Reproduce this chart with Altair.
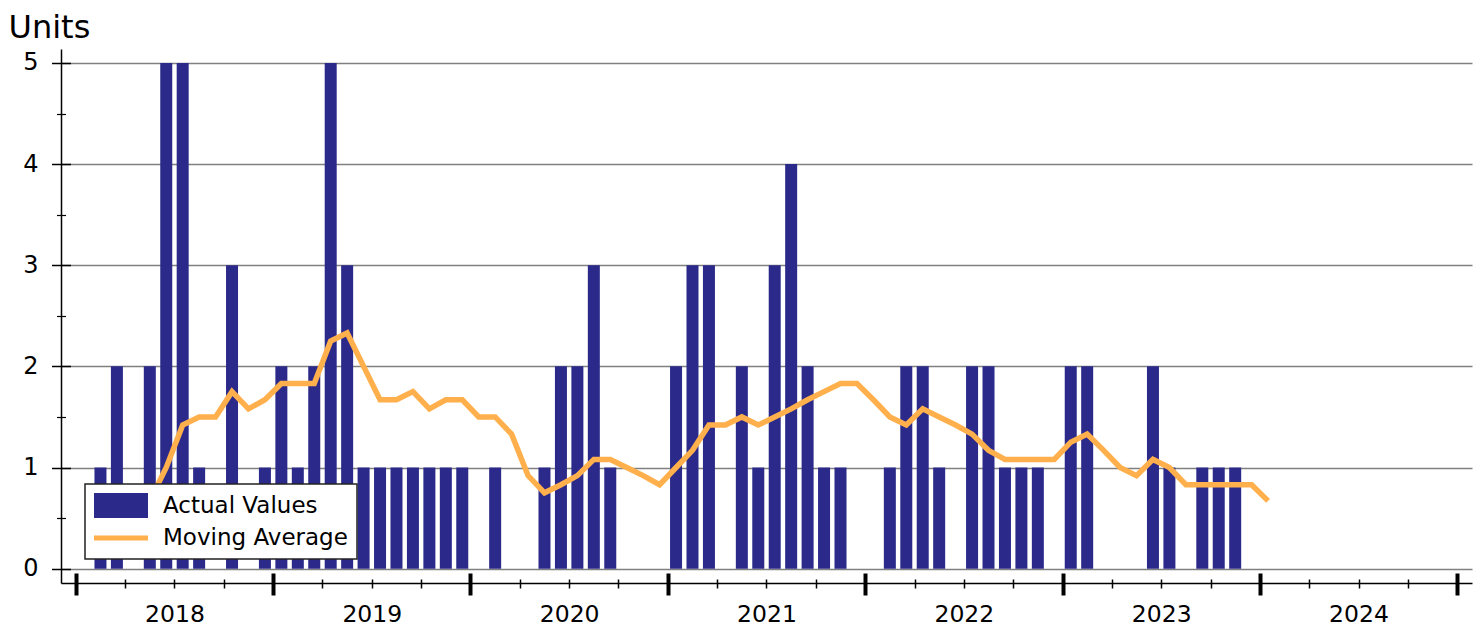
import altair as alt
import pandas as pd

FONT = "DejaVu Sans"
BAR_COLOR = "#2B2A8A"
LINE_COLOR = "#FFB04C"

# ---- data ----
months = pd.date_range("2018-01-01", "2024-01-01", freq="MS").strftime("%Y-%m-%d").tolist()

actual_values = [
    0, 1, 2, 0, 2, 5, 5, 1, 0, 3, 0, 1,   # 2018
    2, 1, 2, 5, 3, 1, 1, 1, 1, 1, 1, 1,   # 2019
    0, 1, 0, 0, 1, 2, 2, 3, 1, 0, 0, 0,   # 2020
    2, 3, 3, 0, 2, 1, 3, 4, 2, 1, 1, 0,   # 2021
    0, 1, 2, 2, 1, 0, 2, 2, 1, 1, 1, 0,   # 2022
    2, 2, 0, 0, 0, 2, 1, 0, 1, 1, 1, 0,   # 2023
    0,                                    # 2024
]

moving_average = [
    None, None, None, None, 0.67, 1.0, 1.42, 1.5, 1.5, 1.75, 1.58, 1.67,      # 2018
    1.83, 1.83, 1.83, 2.25, 2.33, 2.0, 1.67, 1.67, 1.75, 1.58, 1.67, 1.67,    # 2019
    1.5, 1.5, 1.33, 0.92, 0.75, 0.83, 0.92, 1.08, 1.08, 1.0, 0.92, 0.83,      # 2020
    1.0, 1.17, 1.42, 1.42, 1.5, 1.42, 1.5, 1.58, 1.67, 1.75, 1.83, 1.83,      # 2021
    1.67, 1.5, 1.42, 1.58, 1.5, 1.42, 1.33, 1.17, 1.08, 1.08, 1.08, 1.08,     # 2022
    1.25, 1.33, 1.17, 1.0, 0.92, 1.08, 1.0, 0.83, 0.83, 0.83, 0.83, 0.83,     # 2023
    0.67,                                                                      # 2024
]

series_names = ["Actual Values", "Moving Average"]
y_label_values = [0, 1, 2, 3, 4, 5]
y_minor_values = [0.5, 1.5, 2.5, 3.5, 4.5]
year_edge_values = [0, 12, 24, 36, 48, 60, 72, 84]          # months since Jan 2018
quarter_values = [3, 6, 9, 15, 18, 21, 27, 30, 33, 39, 42, 45,
                  51, 54, 57, 63, 66, 69, 75, 78, 81]
year_label_values = [6, 18, 30, 42, 54, 66, 78]

df = pd.DataFrame({"date": months, "actual": actual_values, "ma": moving_average})

pos_expr = "(utcyear(toDate(datum.date)) - 2018) * 12 + utcmonth(toDate(datum.date)) + 0.5"

xs = alt.Scale(domain=[-0.9, 84.9], nice=False, zero=False, padding=0)
ys = alt.Scale(domain=[-0.142, 5.138], nice=False, zero=False, padding=0)
cs = alt.Scale(domain=series_names, range=[BAR_COLOR, LINE_COLOR])

# legend swatches: symbol box is 25px (size 625); paths reach beyond it
BAR_PATH = "M-2.16,-1L2.16,-1L2.16,1L-2.16,1Z"
LINE_PATH = "M-2.16,-0.2L2.16,-0.2L2.16,0.2L-2.16,0.2Z"
shape_expr = "datum.value === 'Moving Average' ? '%s' : '%s'" % (LINE_PATH, BAR_PATH)
fill_expr = "datum.value === 'Moving Average' ? '%s' : '%s'" % (LINE_COLOR, BAR_COLOR)

legend = alt.Legend(
    orient="none", legendX=24, legendY=435, title=None,
    symbolType=alt.ExprRef(expr=shape_expr),
    symbolFillColor=alt.ExprRef(expr=fill_expr),
    symbolStrokeColor="transparent",
    symbolSize=625, symbolStrokeWidth=0, symbolOpacity=1, symbolOffset=14.5,
    labelFont=FONT, labelFontSize=23, labelColor="black", labelOffset=29.5,
    labelLimit=400,
    padding=9, rowPadding=7.5, strokeColor="#222222", fillColor="white",
)

x_main = alt.Axis(
    orient="bottom", values=year_label_values,
    labelExpr="'' + (2018 + floor(datum.value / 12))",
    ticks=False, tickSize=0, domain=True, domainColor="black", domainWidth=1.5,
    labelFont=FONT, labelFontSize=23.5, labelColor="black", labelPadding=31,
    labelBaseline="middle", labelAlign="center", labelFlush=False, labelOverlap=False,
    grid=False, title=None,
)
x_year = alt.Axis(
    orient="bottom", values=year_edge_values, offset=-10, tickSize=22, tickWidth=4,
    tickColor="black", domain=False, labels=False, grid=False, title=None,
)
x_quarter = alt.Axis(
    orient="bottom", values=quarter_values, offset=-4, tickSize=9, tickWidth=1.5,
    tickColor="black", domain=False, labels=False, grid=False, title=None,
)

y_main = alt.Axis(
    orient="left", values=y_label_values, ticks=False, tickSize=0,
    domain=True, domainColor="black", domainWidth=1.5,
    labelFont=FONT, labelFontSize=24, labelColor="black", labelPadding=23,
    grid=True, gridColor="#808080", gridWidth=1.5,
    title="Units", titleAngle=0, titleX=-53, titleY=-22, titleAlign="left",
    titleBaseline="middle", titleFont=FONT, titleFontSize=32, titleFontWeight="normal",
    titleColor="black",
)
y_major = alt.Axis(
    orient="left", values=y_label_values, offset=-9.5, tickSize=19, tickWidth=1.5,
    tickColor="black", domain=False, labels=False, grid=False, title=None,
)
y_minor = alt.Axis(
    orient="left", values=y_minor_values, offset=-4.5, tickSize=9, tickWidth=1.2,
    tickColor="black", domain=False, labels=False, grid=False, title=None,
)

base = alt.Chart(df).transform_calculate(pos=pos_expr)

bars = base.transform_calculate(series="'Actual Values'", base="0").mark_bar(size=12).encode(
    x=alt.X("pos:Q", scale=xs, axis=x_main),
    y=alt.Y("actual:Q", scale=ys, axis=y_main),
    y2="base:Q",
    color=alt.Color("series:N", scale=cs, legend=legend),
)

line = base.transform_filter("isValid(datum.ma)").transform_calculate(
    series="'Moving Average'"
).mark_line(strokeWidth=5.5).encode(
    x=alt.X("pos:Q", scale=xs, axis=x_year),
    y=alt.Y("ma:Q", scale=ys, axis=y_major),
    color=alt.Color("series:N", scale=cs, legend=legend),
)

ghost = base.mark_point(opacity=0).encode(
    x=alt.X("pos:Q", scale=xs, axis=x_quarter),
    y=alt.Y("actual:Q", scale=ys, axis=y_minor),
)

chart = alt.layer(bars, line, ghost).resolve_axis(
    x="independent", y="independent"
).properties(
    width=1411, height=534,
    padding={"left": 53, "top": 41, "right": 1, "bottom": 45},
    autosize=alt.AutoSizeParams(type="none"),
    background="white",
).configure_view(stroke="transparent").configure_legend(strokeWidth=1.5)

chart.save("out.html", embed_options={"renderer": "svg", "actions": False})
